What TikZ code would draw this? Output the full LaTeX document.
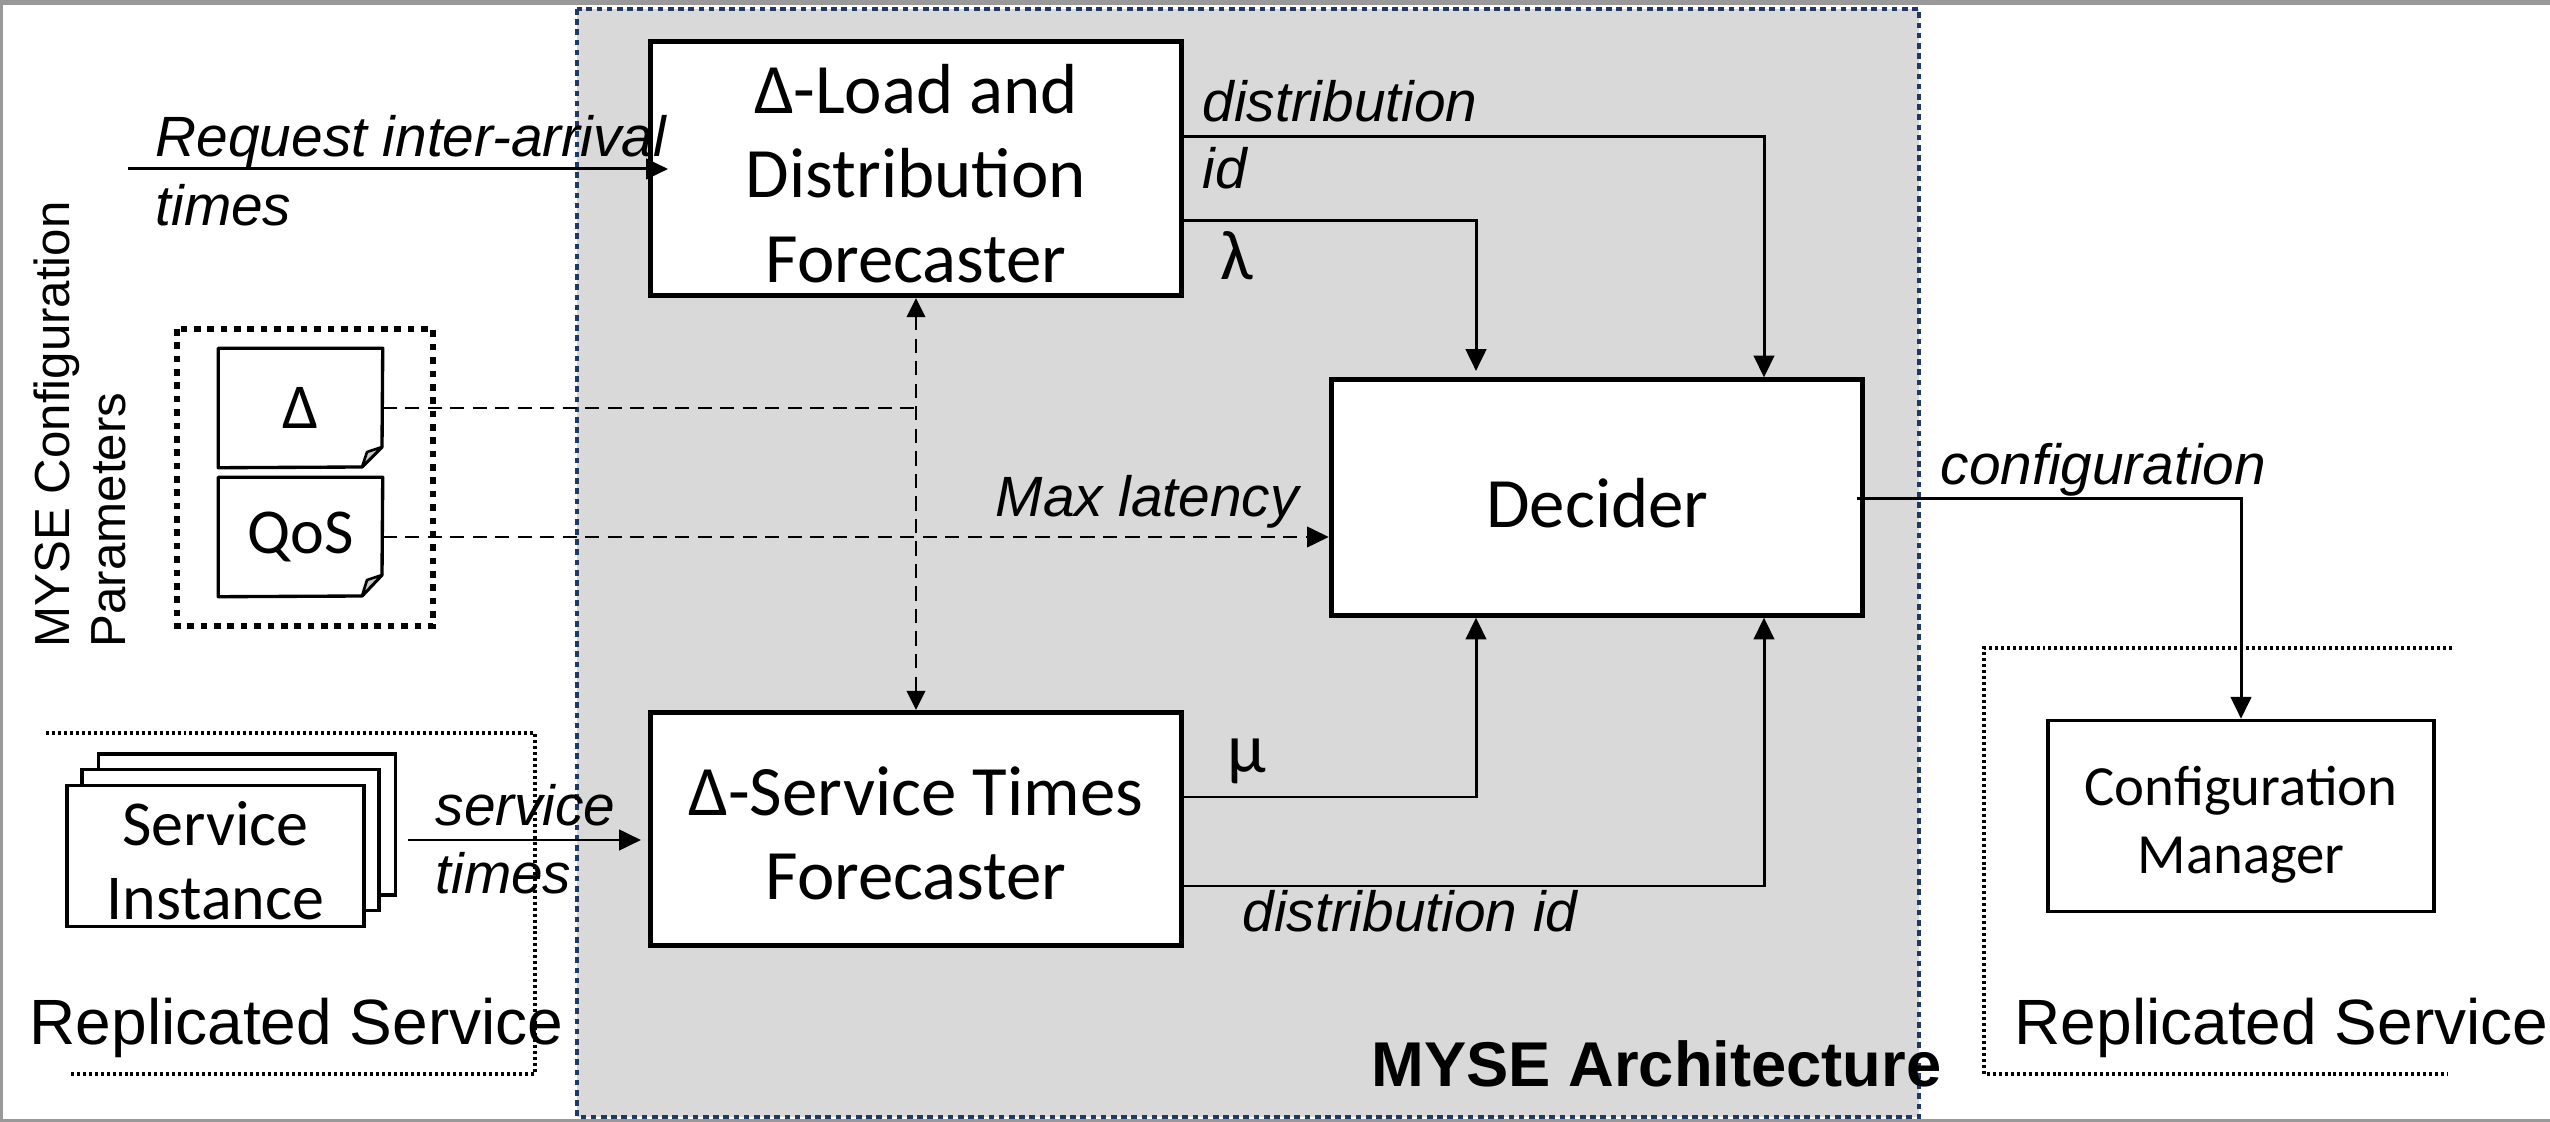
\documentclass[tikz,border=0pt]{standalone}
\usepackage{fontspec}
\setmainfont{Carlito}
\newfontfamily\arialfont{Liberation Sans}
\usetikzlibrary{arrows.meta}
\definecolor{framegray}{HTML}{999999}
\definecolor{panelgray}{HTML}{D9D9D9}
\definecolor{panelblue}{HTML}{1F3864}
\definecolor{foldgray}{HTML}{C8C8C8}
\tikzset{
  bigbox/.style={draw, line width=1.45pt, fill=white, inner sep=0pt},
  thinbox/.style={draw, line width=0.95pt, fill=white, inner sep=0pt},
  bigname/.style={align=center, inner sep=0pt, font=\fontsize{20.15}{24}\selectfont},
  thinname/.style={align=center, inner sep=0pt, font=\fontsize{16.15}{19.4}\selectfont},
  notebox/.style={minimum width=1.63cm, minimum height=1.18cm, inner sep=0pt,
    font=\fontsize{18.2}{22}\selectfont},
  sheet/.style={draw, line width=0.95pt, fill=white, minimum width=2.97cm, minimum height=1.41cm,
    inner sep=0pt},
  sheetname/.style={align=center, inner sep=0pt, font=\fontsize{18.2}{21}\selectfont},
  txt/.style={anchor=base west, inner sep=0pt, font=\arialfont\fontsize{16.15}{16}\selectfont\itshape},
  bigtxt/.style={anchor=base west, inner sep=0pt, font=\arialfont\fontsize{18.2}{18}\selectfont},
  sidetxt/.style={anchor=base west, rotate=90, inner sep=0pt, font=\arialfont\fontsize{14}{14}\selectfont},
  greek/.style={anchor=base, inner sep=0pt, font=\fontsize{20}{20}\selectfont},
  arr/.style={line width=0.85pt, -{Triangle[length=6.2pt,width=5.8pt]}},
  dashline/.style={line width=0.8pt, dash pattern=on 4pt off 2.4pt},
  dotline/.style={line width=0.95pt, dash pattern=on 0.85pt off 0.85pt},
  fold/.style={line width=0.75pt, fill=foldgray, line join=round}
}
\begin{document}
\begin{tikzpicture}[x=0.01cm, y=-0.01cm]
  \useasboundingbox (0,0) rectangle (2550,1122);
  \fill[white] (0,0) rectangle (2550,1122);
  \fill[framegray] (0,0) rectangle (2550,5);
  \fill[framegray] (0,0) rectangle (3,1122);
  \fill[framegray] (0,1119) rectangle (2550,1122);

  \fill[panelgray] (577,9) rectangle (1919,1117);
  \draw[panelblue, line width=1.2pt, dash pattern=on 1.6pt off 1.3pt] (577,9) rectangle (1919,1117);

  %replicated service outlines
  \draw[dotline] (46,733) -- (535,733) -- (535,1074) -- (70,1074);
  \draw[dotline] (2452,648) -- (1984,648) -- (1984,1074) -- (2448,1074);
  \draw[line width=1.7pt, dash pattern=on 1.9pt off 1.9pt] (177,329) rectangle (433,626);

  \node[bigbox, minimum width=5.31cm, minimum height=2.54cm] (load) at (916,168.5) {};
  \node[bigbox, minimum width=5.31cm, minimum height=2.35cm] (dec) at (1597,497.5) {};
  \node[bigbox, minimum width=5.31cm, minimum height=2.33cm] (serv) at (916,829) {};
  \node[thinbox, minimum width=3.86cm, minimum height=1.91cm] (conf) at (2241,816) {};
  \node[bigname] (loadname) at (916,173.5) {Δ-Load and\\Distribution\\Forecaster};
  \node[bigname] (decname) at (1597.5,503) {Decider};
  \node[bigname] (servname) at (916,833.5) {Δ-Service Times\\Forecaster};
  \node[thinname] (confname) at (2241,825) {Configuration\\Manager};

  \node[sheet] (back) at (247,824.5) {};
  \node[sheet] (mid) at (230.5,840) {};
  \node[sheet] (front) at (215.5,856) {};
  \node[sheetname] (frontname) at (215.5,861) {Service\\Instance};

  \node[notebox] (delta) at (300.5,408) {Δ};
  \node[notebox] (qos) at (300.5,537) {QoS};
  \draw[line width=0.95pt, line join=round] (delta.south west) -- (delta.north west) -- (delta.north east) -- (382,447) -- (362,467) -- cycle;
  \draw[line width=0.95pt, line join=round] (qos.south west) -- (qos.north west) -- (qos.north east) -- (382,575) -- (362,596) -- cycle;
  \draw[fold] (362,467) -- (367,452) -- (382,447) -- cycle;
  \draw[fold] (362,596) -- (367,580) -- (382,575) -- cycle;

  \coordinate (ya) at (0,137);
  \coordinate (yb) at (0,221);
  \coordinate (yc) at (0,797);
  \coordinate (yd) at (0,886);
  \coordinate (xa) at (1764,0);
  \coordinate (xb) at (1476,0);
  \coordinate (confout) at (1857,499);
  \coordinate (lamend) at (1476,371);
  \coordinate (reqin) at (128,169);
  \coordinate (reqout) at (668,169);
  \coordinate (timein) at (408,840);
  \coordinate (timeout) at (641,840);

  \draw[arr] (reqin) -- (reqout);
  \draw[arr] (timein) -- (timeout);
  \draw[arr] (load.east |- ya) -| (dec.north -| xa);
  \draw[arr] (load.east |- yb) -| (lamend);
  \draw[arr] (serv.east |- yc) -| (dec.south -| xb);
  \draw[arr] (serv.east |- yd) -| (dec.south -| xa);
  \draw[arr] (confout) -| (conf.north);

  \draw[dashline, {Triangle[length=5.4pt,width=5.2pt]}-{Triangle[length=5.4pt,width=5.2pt]}] (load.south) -- (serv.north);
  \draw[dashline] (delta.east) -- (delta.east -| load.south);
  \draw[dashline, -{Triangle[length=6.2pt,width=5.8pt]}] (qos.east) -- (qos.east -| dec.west);

  \node[txt] (req1) at (155,157) {Request inter-arrival};
  \node[txt] (req2) at (155,226) {times};
  \node[txt] (svc1) at (435,826) {service};
  \node[txt] (svc2) at (435,894) {times};
  \node[txt] (dist1) at (1202,122) {distribution};
  \node[txt] (dist2) at (1202,189) {id};
  \node[txt] (dist3) at (1242,932) {distribution id};
  \node[txt] (maxl) at (995,517) {Max latency};
  \node[txt] (cfg) at (1940,485) {configuration};
  \node[greek] (lam) at (1237,280) {λ};
  \node[greek] (mu) at (1247,773) {μ};

  \node[sidetxt] (par1) at (69,648) {MYSE Configuration};
  \node[sidetxt] (par2) at (125,648) {Parameters};
  \node[bigtxt] (rep1) at (29,1045) {Replicated Service};
  \node[bigtxt] (rep2) at (2014,1045) {Replicated Service};
  \node[bigtxt, font=\arialfont\bfseries\fontsize{18}{18}\selectfont] (arch) at (1371,1087) {MYSE Architecture};
\end{tikzpicture}
\end{document}
